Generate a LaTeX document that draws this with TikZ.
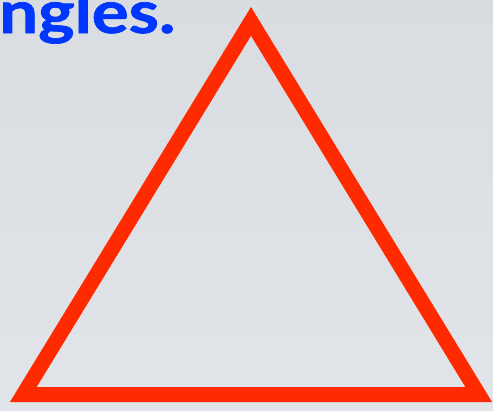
\documentclass[tikz,border=0pt]{standalone}
\usepackage{fontspec}
\setmainfont{Lato}
\newfontfamily\titlefont[FakeBold=1.2]{Lato}
\definecolor{bgtop}{HTML}{D9DDE2}
\definecolor{bgbot}{HTML}{E1E4E8}
\definecolor{trired}{HTML}{FF2A00}
\definecolor{titleblue}{HTML}{0037FF}
\begin{document}
\begin{tikzpicture}[x=1pt,y=-1pt,
  tri/.style={draw=trired,line width=15pt,line join=miter,miter limit=10},
  titletext/.style={text=titleblue,font=\titlefont\fontsize{59}{59}\selectfont\bfseries,inner sep=0pt,anchor=base west,xscale=1.17}]
\useasboundingbox (0,0) rectangle (493,410);
\clip (0,0) rectangle (493,410);
\shade[top color=bgtop,bottom color=bgbot] (0,0) rectangle (493,410);
\node[titletext] (title) at (-1,33) {ngles.};
\coordinate (A) at (251,21.4);
\coordinate (B) at (23.3,394.5);
\coordinate (C) at (478.7,394.5);
\draw[tri] (A) -- (B) -- (C) -- cycle;
\end{tikzpicture}
\end{document}
